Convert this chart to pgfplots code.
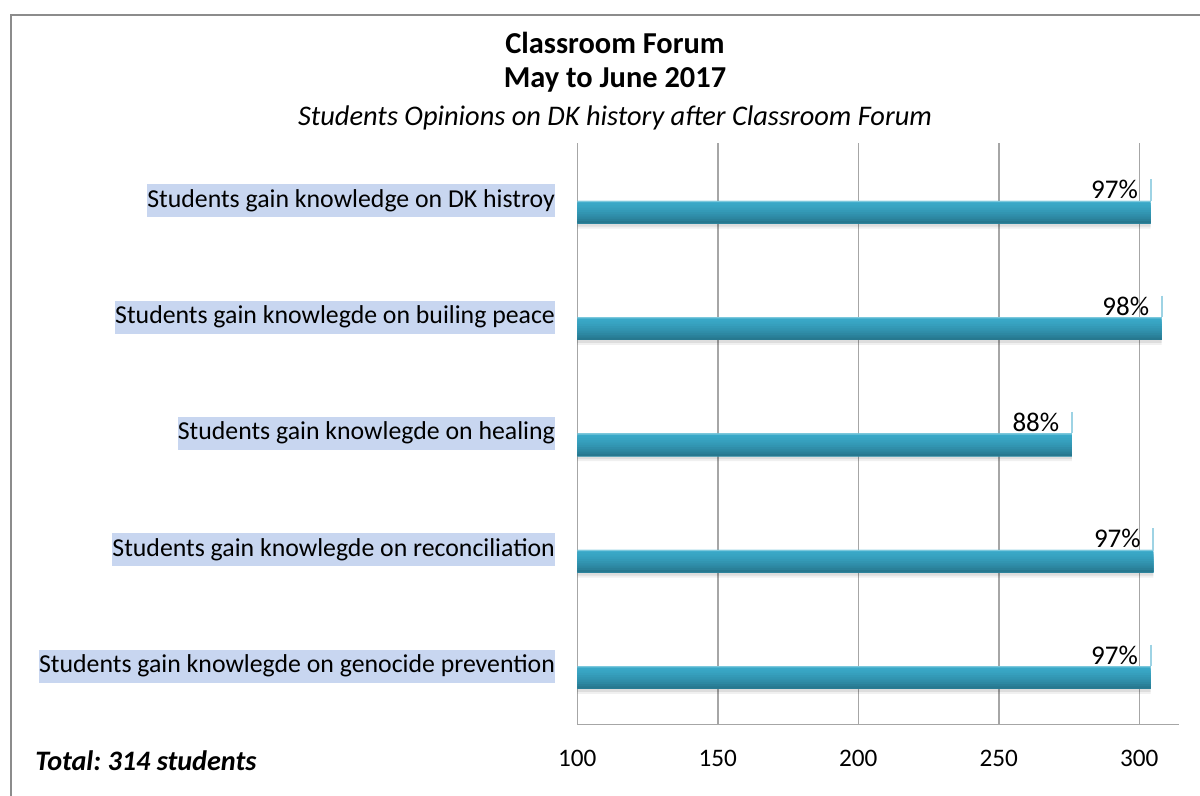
\documentclass[border=0pt]{standalone}
\usepackage{fontspec}
\setmainfont{Carlito}
\usepackage{pgfplots}
\usepackage{pgfplotstable}
\pgfplotsset{compat=1.18}
\definecolor{barA}{HTML}{7CC8DC}
\definecolor{barB}{HTML}{3AAACA}
\definecolor{barG}{HTML}{27788F}
\definecolor{labelBg}{HTML}{C8D6F0}
\definecolor{gridGray}{HTML}{A6A6A6}
\definecolor{frameGray}{HTML}{8C8C8C}
\definecolor{tickBlue}{HTML}{9ED3E4}
\pgfplotstableread{
x   y  lab
304 0  97\%
305 1  97\%
276 2  88\%
308 3  98\%
304 4  97\%
}\datatable
\frenchspacing
\begin{document}
\begin{tikzpicture}
\useasboundingbox (0,0) rectangle (600pt,398pt);
\draw[frameGray, line width=1pt] (5.5pt,-3pt) -- (5.5pt,390.5pt) -- (603pt,390.5pt);
\node[font=\fontsize{15.2}{17}\selectfont\bfseries, anchor=base, inner sep=0pt] at (307.5pt, 371pt) {Classroom Forum};
\node[font=\fontsize{15.2}{17}\selectfont\bfseries, anchor=base, inner sep=0pt] at (307.5pt, 354pt) {May to June 2017};
\node[font=\fontsize{14.2}{16}\selectfont\itshape, anchor=base, inner sep=0pt] at (307.5pt, 335pt) {Students Opinions on DK history after Classroom Forum};
\node[font=\fontsize{14.1}{16}\selectfont\bfseries\itshape, anchor=base west, inner sep=0pt] at (17.5pt, 12.5pt) {Total: 314 students};
\begin{axis}[
  at={(288.65pt,35.85pt)}, anchor=south west,
  scale only axis, width=300.65pt, height=290.8pt,
  xmin=100, xmax=314, ymin=-0.5, ymax=4.5,
  xtick={100,150,200,250,300},
  ytick={0,1,2,3,4},
  yticklabels={Students gain knowlegde on genocide prevention,
               Students gain knowlegde on reconciliation,
               Students gain knowlegde on healing,
               Students gain knowlegde on builing peace,
               Students gain knowledge on DK histroy},
  axis x line*=bottom, axis y line*=left,
  axis line style={gridGray, line width=0.75pt},
  xmajorgrids, grid style={gridGray, line width=0.75pt},
  major tick length=0pt,
  /pgf/number format/assume math mode=true,
  xticklabel style={font=\fontsize{12.6}{14}\selectfont, yshift=-9.5pt},
  yticklabel style={font=\fontsize{12.9}{14}\selectfont, fill=labelBg, inner xsep=0pt, inner ysep=1.5pt, text height=10pt, text depth=3.5pt, xshift=-11pt},
  clip=true,
  xbar,
]
% soft shadow
\addplot[bar width=12.5pt, bar shift=-7.6pt, draw=none, fill=black, fill opacity=0.06] table[x=x,y=y] {\datatable};
\addplot[bar width=11.3pt, bar shift=-7.2pt, draw=none, fill=black, fill opacity=0.08] table[x=x,y=y] {\datatable};
% gradient body: cumulative strips, top to bottom
\addplot[bar width=11.3pt, bar shift=-5.65pt,  draw=none, fill=barB] table[x=x,y=y] {\datatable};
\addplot[bar width=10.17pt, bar shift=-6.215pt, draw=none, fill=barG!6!barB] table[x=x,y=y] {\datatable};
\addplot[bar width=9.04pt, bar shift=-6.78pt,  draw=none, fill=barG!13!barB] table[x=x,y=y] {\datatable};
\addplot[bar width=7.91pt, bar shift=-7.345pt, draw=none, fill=barG!22!barB] table[x=x,y=y] {\datatable};
\addplot[bar width=6.78pt, bar shift=-7.91pt,  draw=none, fill=barG!32!barB] table[x=x,y=y] {\datatable};
\addplot[bar width=5.65pt, bar shift=-8.475pt, draw=none, fill=barG!43!barB] table[x=x,y=y] {\datatable};
\addplot[bar width=4.52pt, bar shift=-9.04pt,  draw=none, fill=barG!55!barB] table[x=x,y=y] {\datatable};
\addplot[bar width=3.39pt, bar shift=-9.605pt, draw=none, fill=barG!68!barB] table[x=x,y=y] {\datatable};
\addplot[bar width=2.26pt, bar shift=-10.17pt, draw=none, fill=barG!83!barB] table[x=x,y=y] {\datatable};
\addplot[bar width=1.13pt, bar shift=-10.735pt, draw=none, fill=barG] table[x=x,y=y] {\datatable};
% light top edge
\addplot[bar width=0.6pt, bar shift=-0.3pt, draw=none, fill=barA] table[x=x,y=y] {\datatable};
% depth tick and data labels
\addplot[only marks, mark=|, mark size=5.4pt, color=tickBlue, mark options={line width=1pt, yshift=5.4pt},
  point meta=explicit symbolic,
  nodes near coords,
  nodes near coords style={anchor=base east, inner sep=0pt, xshift=-5.8pt, yshift=-4.4pt, text=black, font=\fontsize{13.5}{15}\selectfont}]
  table[x=x,y=y,meta=lab] {\datatable};
\end{axis}
\end{tikzpicture}
\end{document}
